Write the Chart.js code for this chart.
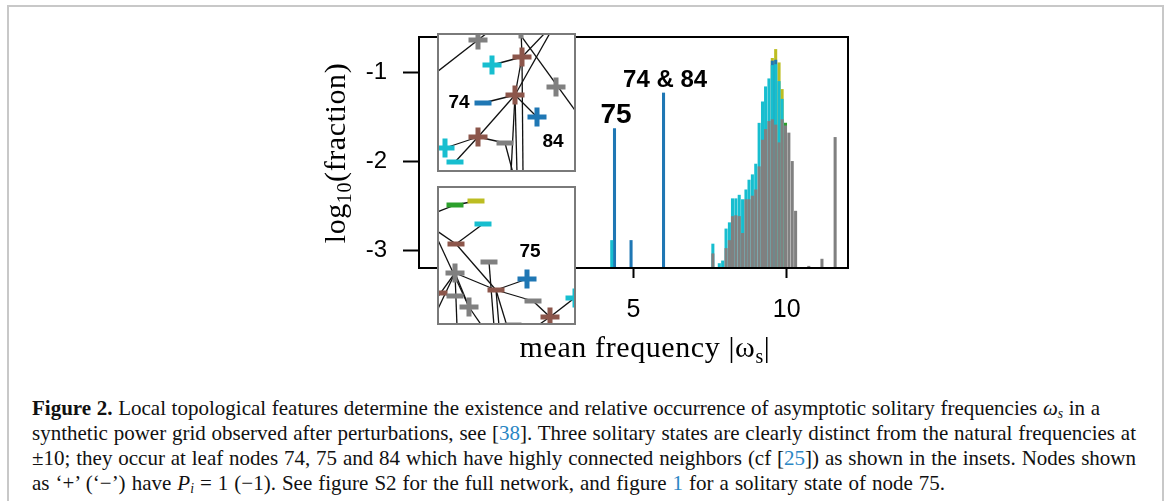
<!DOCTYPE html>
<html>
<head>
<meta charset="utf-8">
<script src="https://cdn.jsdelivr.net/npm/chart.js@4.4.0/dist/chart.umd.min.js"></script>
<style>
  body { margin: 0; background: #fff; width: 1167px; height: 501px; overflow: hidden; position: relative; }
  #frame { position: absolute; left: 7px; top: 5px; width: 1153px; height: 520px; border: 2px solid #c8c8c8; }
  #main { position: absolute; left: 0; top: 0; }
  .inset { position: absolute; background: #fff; border: 2px solid #7a7a7a; box-sizing: border-box; width: 139px; height: 139px; }
  .inset canvas { display: block; }
  #inset1 { left: 437px; top: 33px; }
  #inset2 { left: 437px; top: 186px; }
  #caption { position: absolute; left: 32px; top: 396px; font-family: "Liberation Serif", serif; font-size: 21px;
             line-height: 25px; color: #111; white-space: nowrap; }
  #caption a { color: #2a86c4; text-decoration: none; }
  #caption sub { font-size: 65%; vertical-align: -3px; line-height: 0; }
</style>
</head>
<body>
<div id="frame"></div>
<canvas id="main" width="1167" height="370"></canvas>
<div class="inset" id="inset1"><canvas id="c1" width="135" height="135"></canvas></div>
<div class="inset" id="inset2"><canvas id="c2" width="135" height="135"></canvas></div>
<div id="caption">
  <div><span><b>Figure 2.</b> Local topological features determine the existence and relative occurrence of asymptotic solitary frequencies <i>ω<sub>s</sub></i> in a</span></div>
  <div><span>synthetic power grid observed after perturbations, see [<a>38</a>]. Three solitary states are clearly distinct from the natural frequencies at</span></div>
  <div><span>±10; they occur at leaf nodes 74, 75 and 84 which have highly connected neighbors (cf [<a>25</a>]) as shown in the insets. Nodes shown</span></div>
  <div><span>as ‘+’ (‘−’) have <i>P<sub>i</sub></i> = 1 (−1). See figure S2 for the full network, and figure <a>1</a> for a solitary state of node 75.</span></div>
</div>
<script>
// histogram bins (mean frequency) and log10(fraction) at the top of each coloured part
const freq   = [4.29, 4.38, 4.92, 5.98, 7.59, 7.80, 7.91, 8.02, 8.13, 8.23, 8.34, 8.45, 8.56, 8.67, 8.77, 8.88, 8.99,
                9.10, 9.21, 9.31, 9.42, 9.53, 9.64, 9.75, 9.85, 9.96, 10.07, 10.18, 10.29, 10.72, 11.15, 11.58];
const grayV  = [null, null, null, null, -3.04, null, null, -2.98, -2.89, -2.62, -2.61, -2.62, -2.81, -2.43, -2.43, -2.39, -2.32,
                -2.06, -1.76, -1.64, -1.55, -1.53, -1.59, -1.79, -1.53, -1.60, -1.68, -2.00, -2.56, -3.18, -3.10, -1.73];
const cyanV  = [-2.89, null, null, null, -2.93, -3.15, -3.12, -2.76, -2.69, -2.42, -2.42, -2.38, -2.43, -2.32, -2.21, -2.15, -2.03,
                -1.57, -1.33, -1.16, -1.07, -0.92, -0.91, -1.10, -1.30, null, null, null, null, null, null, null];
const blueV  = [null, -1.63, -2.89, -1.23, null, null, null, null, null, null, null, null, null, null, null, null, null,
                null, null, null, null, -0.87, -0.86, null, null, null, null, null, null, null, null, null];
const yellowV = [null, null, null, null, null, null, null, null, null, null, null, null, null, null, null, null, null,
                null, null, null, null, -0.84, -0.74, -0.89, -1.19, null, null, null, null, null, null, null];
const greenV = [null, null, null, null, null, null, null, null, null, null, null, null, null, null, null, null, null,
                null, null, null, null, null, null, null, null, -1.57, null, null, null, null, null, null];

const xTicks = [5, 10];
const yTicks = [-3, -2, -1];
const peakLabels = [
  { text: '75', x: 4.43, y: -1.48, size: 28 },
  { text: '74 & 84', x: 6.03, y: -1.09, size: 24 }
];

// inset networks: nodes [x, y, colour name], edges [x1, y1, x2, y2] in inset pixels
const inset1Plus  = [[41, 7, 'gray'], [85, 24, 'brown'], [55, 32, 'cyan'], [119, 54, 'gray'], [78, 62, 'brown'],
                     [100, 84, 'blue'], [41, 104, 'brown'], [8, 115, 'cyan'], [84, -4, 'gray']];
const inset1Minus = [[46, 70, 'blue'], [68, 110, 'gray'], [18, 129, 'cyan']];
const inset1Edges = [[0, 39, 50, 0], [55, 32, 85, 24], [85, 24, 78, 62], [85, 24, 84, -4], [82, 0, 140, 80],
                     [113, 0, 78, 62], [108, 0, 85, 24], [78, 62, 46, 70], [78, 62, 100, 84], [78, 62, 41, 104],
                     [78, 62, 80, 140], [85, 24, 86, 140], [78, 62, 74, 140], [68, 110, 41, 104],
                     [41, 104, 8, 115], [41, 104, 18, 129], [68, 110, 76, 140]];
const inset1Labels = [{ text: '74', x: 22, y: 70 }, { text: '84', x: 116, y: 109 }];

const inset2Minus = [[18, 19, 'green'], [39, 15, 'yellow'], [46, 38, 'cyan'], [19, 58, 'brown'], [52, 76, 'gray'],
                     [59, 104, 'brown'], [2, 107, 'brown'], [18, 110, 'gray'], [96, 115, 'gray'], [76, 139, 'gray']];
const inset2Plus  = [[18, 87, 'gray'], [90, 93, 'blue'], [32, 121, 'gray'], [113, 131, 'brown'], [138, 112, 'cyan']];
const inset2Edges = [[0, 26, 18, 19], [18, 19, 39, 15], [46, 38, 19, 58], [0, 45, 19, 58], [19, 58, 59, 104],
                     [0, 52, 32, 121], [52, 76, 57, 140], [18, 87, 59, 104], [18, 87, 0, 112], [18, 87, 32, 121],
                     [18, 87, 20, 140], [59, 104, 90, 93], [59, 104, 96, 115], [96, 115, 113, 131],
                     [113, 131, 140, 110], [113, 131, 100, 140], [59, 104, 62, 140], [59, 104, 70, 140],
                     [32, 121, 45, 140], [0, 107, 18, 110], [0, 125, 18, 87]];
const inset2Labels = [{ text: '75', x: 93, y: 66 }];

// right end (px) of each caption line in the figure
const captionEnds = [1100, 1136, 1136, 945];

const COLORS = { gray: '#808080', brown: '#8c564b', cyan: '#17becf', blue: '#1f77b4', green: '#2ca02c', yellow: '#bcbd22' };
const Y_MIN = -3.2, Y_MAX = -0.6;

function pts(vals) {
  return freq.map((f, i) => vals[i] === null ? null : { x: f, y: vals[i] }).filter(p => p);
}

function barSet(vals, color) {
  return {
    data: pts(vals), backgroundColor: color, borderWidth: 0,
    barThickness: 2.4, grouped: false, base: Y_MIN
  };
}

const frameAndText = {
  id: 'frameAndText',
  afterDraw(chart) {
    const { ctx, chartArea: a, scales: { x, y } } = chart;
    ctx.save();
    ctx.strokeStyle = '#000';
    ctx.lineWidth = 2;
    ctx.strokeRect(a.left, a.top, a.right - a.left, a.bottom - a.top);

    ctx.fillStyle = '#000';
    ctx.textAlign = 'center';
    ctx.textBaseline = 'middle';
    peakLabels.forEach(l => {
      ctx.font = `bold ${l.size}px "Liberation Sans", Arial, sans-serif`;
      ctx.fillText(l.text, x.getPixelForValue(l.x), y.getPixelForValue(l.y));
    });

    // axis titles with subscripts
    const big = '30px "Liberation Serif", serif', small = '20px "Liberation Serif", serif';
    ctx.textAlign = 'left';
    ctx.textBaseline = 'alphabetic';
    ctx.letterSpacing = '0.6px';
    function parts(list) {
      let w = 0;
      list.forEach(p => { ctx.font = p[1] ? small : big; w += ctx.measureText(p[0]).width; });
      return w;
    }
    function drawParts(list, x0, base) {
      let cx = x0;
      list.forEach(p => {
        ctx.font = p[1] ? small : big;
        ctx.fillText(p[0], cx, base + (p[1] ? 6 : 0));
        cx += ctx.measureText(p[0]).width;
      });
    }
    const xt = [['mean frequency |', 0], ['ω', 0], ['s', 1], ['|', 0]];
    drawParts(xt, 645 - parts(xt) / 2, 357);

    const yt = [['log', 0], ['10', 1], ['(fraction)', 0]];
    ctx.translate(345, 153);
    ctx.rotate(-Math.PI / 2);
    drawParts(yt, -parts(yt) / 2, 0);
    ctx.restore();
  }
};

new Chart(document.getElementById('main'), {
  type: 'bar',
  data: {
    datasets: [
      barSet(grayV, COLORS.gray),
      barSet(greenV, COLORS.green),
      barSet(cyanV, COLORS.cyan),
      barSet(blueV, COLORS.blue),
      barSet(yellowV, COLORS.yellow)
    ]
  },
  options: {
    responsive: false,
    animation: false,
    layout: { autoPadding: false, padding: { left: 0, top: 37, right: 319, bottom: 0 } },
    plugins: { legend: { display: false }, tooltip: { enabled: false } },
    scales: {
      x: {
        type: 'linear', min: -2, max: 12, offset: false,
        afterFit: s => { s.height = 102; },
        afterBuildTicks: s => { s.ticks = xTicks.map(v => ({ value: v })); },
        grid: { offset: false, drawOnChartArea: false, tickLength: 10, tickWidth: 2, tickColor: '#000' },
        border: { color: '#000', width: 2 },
        ticks: { color: '#000', padding: 17, maxRotation: 0, font: { family: '"Liberation Sans", Arial, sans-serif', size: 25 } }
      },
      y: {
        min: Y_MIN, max: Y_MAX,
        afterFit: s => { s.width = 419; },
        afterBuildTicks: s => { s.ticks = yTicks.map(v => ({ value: v })); },
        grid: { drawOnChartArea: false, tickLength: 16, tickWidth: 2, tickColor: '#000' },
        border: { color: '#000', width: 2 },
        ticks: { color: '#000', padding: 16, font: { family: '"Liberation Sans", Arial, sans-serif', size: 24 } }
      }
    }
  },
  plugins: [frameAndText]
});

function insetChart(id, plus, minus, edges, labels) {
  const datasets = [
    {
      data: plus.map(n => ({ x: n[0], y: n[1] })), pointStyle: 'cross', pointRadius: 9.5,
      pointBorderWidth: 5, pointBorderColor: plus.map(n => COLORS[n[2]]), order: 0
    },
    {
      data: minus.map(n => ({ x: n[0], y: n[1] })), pointStyle: 'line', pointRadius: 8.5,
      pointBorderWidth: 5, pointBorderColor: minus.map(n => COLORS[n[2]]), order: 0
    }
  ];
  edges.forEach(e => datasets.push({
    data: [{ x: e[0], y: e[1] }, { x: e[2], y: e[3] }], showLine: true, pointRadius: 0,
    borderColor: '#111', borderWidth: 1.3, order: 1
  }));
  const labelPlugin = {
    id: 'nodeLabels',
    afterDraw(chart) {
      const { ctx, scales: { x, y } } = chart;
      ctx.save();
      ctx.font = 'bold 19px "Liberation Sans", Arial, sans-serif';
      ctx.fillStyle = '#000';
      ctx.textAlign = 'center';
      ctx.textBaseline = 'middle';
      labels.forEach(l => ctx.fillText(l.text, x.getPixelForValue(l.x), y.getPixelForValue(l.y)));
      ctx.restore();
    }
  };
  new Chart(document.getElementById(id), {
    type: 'scatter',
    data: { datasets },
    options: {
      responsive: false,
      animation: false,
      layout: { autoPadding: false, padding: 0 },
      plugins: { legend: { display: false }, tooltip: { enabled: false } },
      scales: {
        x: { display: false, min: 2, max: 137 },
        y: { display: false, min: 2, max: 137, reverse: true }
      }
    },
    plugins: [labelPlugin]
  });
}

insetChart('c1', inset1Plus, inset1Minus, inset1Edges, inset1Labels);
insetChart('c2', inset2Plus, inset2Minus, inset2Edges, inset2Labels);

// stretch word spacing so each caption line ends where it does in the figure
const capLeft = document.getElementById('caption').getBoundingClientRect().left;
document.querySelectorAll('#caption span').forEach((span, i) => {
  const w = span.getBoundingClientRect().width;
  const gaps = span.textContent.split(' ').length - 1;
  span.style.wordSpacing = ((captionEnds[i] - capLeft - w) / gaps) + 'px';
});
</script>
</body>
</html>
